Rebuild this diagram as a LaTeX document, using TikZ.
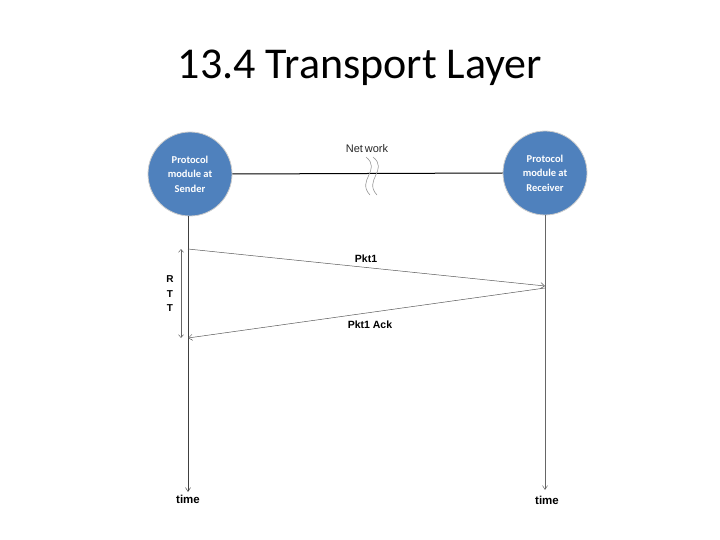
\documentclass[tikz,border=0pt]{standalone}
\usepackage{fontspec}
\setmainfont{Carlito}
\newfontfamily\lab{Liberation Sans}
\usetikzlibrary{arrows.meta}
\begin{document}
\begin{tikzpicture}[x=1pt,y=-1pt,
  proto/.style={circle,draw=white!80!black,line width=0.8pt,fill={rgb,255:red,79;green,129;blue,189},minimum size=84pt,inner sep=0pt,
    text=white,font=\bfseries\fontsize{10.5}{14.5}\selectfont,align=center},
  lbl/.style={font=\lab\bfseries\fontsize{10.5}{12}\selectfont},
  tline/.style={draw=black!60,line width=0.5pt,-{Straight Barb[length=4pt,width=5pt]}},
  msg/.style={draw=black!65,line width=0.5pt,-{Straight Barb[length=4pt,width=6pt]}}]
\useasboundingbox (0,0) rectangle (720,540);
\node[font=\fontsize{44}{48}\selectfont] (title) at (360,68) {13.4 Transport Layer};
\node[proto] (snd) at (190,174) {Protocol\\module at\\Sender};
\node[proto] (rcv) at (545,173) {Protocol\\module at\\Receiver};
\node[font=\lab\fontsize{11}{12}\selectfont,text=black!85] (net) at (367,149) {Net\,work};
\draw[line width=1pt] (snd.east) -- (rcv.west);
\coordinate (s1) at (366,157);
\coordinate (s2) at (373,157);
\draw[black!40,line width=0.6pt] (s1) .. controls (382,170) and (356,180) .. (370,195);
\draw[black!40,line width=0.6pt] (s2) .. controls (389,170) and (363,180) .. (377,195);
% timelines
\coordinate (sEnd) at (188,492);
\coordinate (rEnd) at (545,490);
\draw[tline,draw=black!75] (snd.south) ++(-2,0) coordinate (sa) -- (sEnd);
\draw[tline] (rcv.south) -- (rEnd);
\node[lbl,font=\lab\bfseries\fontsize{11.5}{12}\selectfont] (t1) at (188,499) {time};
\node[lbl,font=\lab\bfseries\fontsize{11.5}{12}\selectfont] (t2) at (547,500) {time};
% messages
\coordinate (p1a) at (188,249);
\coordinate (p1b) at (545,286);
\coordinate (p2a) at (545,288);
\coordinate (p2b) at (188,338);
\draw[msg] (p1a) -- (p1b);
\draw[msg] (p2a) -- (p2b);
\node[lbl] (pk1) at (366,259) {Pkt1};
\node[lbl] (pk2) at (370,325) {Pkt1 Ack};
% RTT
\coordinate (r1) at (181,249);
\coordinate (r2) at (181,338);
\draw[draw=black!60,line width=0.5pt,{Straight Barb[length=3pt,width=5pt]}-{Straight Barb[length=3pt,width=5pt]}] (r1) -- (r2);
\node[lbl,align=center,font=\lab\bfseries\fontsize{10}{14.5}\selectfont] (rtt) at (170,294) {R\\T\\T};
\end{tikzpicture}
\end{document}
